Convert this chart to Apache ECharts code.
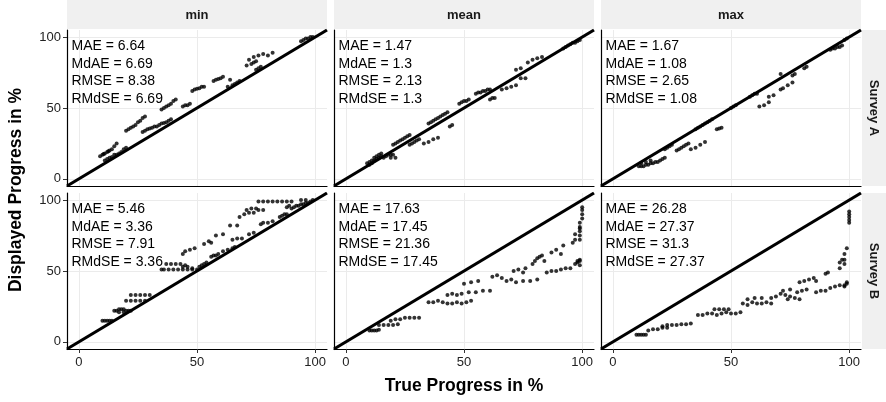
<!DOCTYPE html>
<html><head><meta charset="utf-8">
<script src="https://cdn.jsdelivr.net/npm/echarts@6/dist/echarts.min.js"></script>
<style>html,body{margin:0;padding:0;background:#fff}#c{width:886px;height:402px}</style>
</head><body><div id="c"></div>
<script>
const colLabels = ['min', 'mean', 'max'];
const rowLabels = ['Survey A', 'Survey B'];
const tickValues = [0, 50, 100];
const axisRange = [-5, 105];
const diagLine = [-5, 105];
const xTitle = 'True Progress in %';
const yTitle = 'Displayed Progress in %';

const statsAMin = ['MAE = 6.64', 'MdAE = 6.69', 'RMSE = 8.38', 'RMdSE = 6.69'];
const statsAMean = ['MAE = 1.47', 'MdAE = 1.3', 'RMSE = 2.13', 'RMdSE = 1.3'];
const statsAMax = ['MAE = 1.67', 'MdAE = 1.08', 'RMSE = 2.65', 'RMdSE = 1.08'];
const statsBMin = ['MAE = 5.46', 'MdAE = 3.36', 'RMSE = 7.91', 'RMdSE = 3.36'];
const statsBMean = ['MAE = 17.63', 'MdAE = 17.45', 'RMSE = 21.36', 'RMdSE = 17.45'];
const statsBMax = ['MAE = 26.28', 'MdAE = 27.37', 'RMSE = 31.3', 'RMdSE = 27.37'];

const pointsAMin = [
 [9,16],[10,17],[10.5,17.5],[11,18],[12,19],[12.5,19.5],[13,20],[14,21],[15,23],[16,25],
 [11,13],[12,14],[13,15],[14,15.5],[15,17],[16,17],[17,18],[18,19],[19,21],[20,22],
 [20,34],[21,35],[22,36],[23,37],[24,38],[25,40],[26,41],[27,43],[28,44],
 [27,33],[28,34],[29,35],[30,35.5],[31,36],[32,37],
 [33,37],[34,38],[35,39],[36,39.5],[37,40],[38,41],[39,42],
 [35,49],[36,50],[37,51],[38,52],[39,53],[40,55],[41,56],
 [44,51],[45,52],[46,52],[47,53],
 [48,62],[49,63],[50,63.5],[51,64],[52,65],[53,65],
 [57,69],[58,70],[59,70.5],[60,71],[61,72],
 [64,70],
 [63,65],[65,66],[66,67],[67,68],[68,69],
 [71,80],[73,81],[74,82],[75,83],
 [72,84],[74,86],[76,87],[78,88],[80,87],[82,89],
 [75,77],[76,78],[77,79],
 [94,97],[95,98],[96,99],[97,99],[98,100],[99,100]
];
const pointsAMean = [
 [9,11],[10,12],[11,13],[12,13],[13,14],[14,15],[15,16],[16,15],[17,16],[18,17],[19,17],[20,17],
 [12,15],[13,16],[14,17],[15,18],[11,11],[10,10],[19,15],[21,15],
 [20,24],[21,25],[22,26],[23,27],[24,28],[25,29],[26,30],[27,31],
 [27,24],[28,25],[29,26],[30,27],[31,28],
 [33,25],[35,26],[37,28],[39,29],
 [35,39],[36,40],[37,41],[38,42],[39,43],[40,44],[41,45],[42,46],[43,47],
 [44,37],[45,38],
 [48,53],[49,54],[50,55],[51,55],[52,56],
 [55,60],[56,61],[57,61],[58,62],[59,62],[60,63],[61,63],
 [61,56],[62,57],[63,57],
 [66,63],[68,64],[70,65],[72,66],
 [74,71],[76,71],
 [72,77],[74,78],
 [77,82],[79,84],[81,85],[83,86],
 [92,92],[93,93],[94,94],[95,95],[96,96],[97,96],[98,97],[99,98]
];
const pointsAMax = [
 [11,9],[12,9],[13,9],[14,10],[15,10],[16,11],[17,11],[18,12],[19,12],[20,13],[21,14],[22,15],
 [12,11],[14,12],[16,13],
 [22,21],[23,22],[24,23],[25,24],
 [27,20],[28,21],[29,22],[30,23],[31,24],[32,25],
 [33,21],[35,22],[37,24],[39,26],
 [35,35],[36,36],[37,37],[38,38],[39,39],[40,40],[41,41],[42,42],
 [44,35],[45,35.5],[46,36],
 [50,50],[51,51],[52,52],
 [58,58],[59,59],[60,60],[61,60],
 [62,51],[64,52],[66,54],
 [66,58],[68,59],
 [71,63],[72,64],[74,66],[76,68],
 [71,74],[76,73],[77,74],
 [81,78],[82,79],
 [92,91],[93,92],[94,92],[95,93],[96,93],[97,94],
 [98,98],[99,99]
];
const pointsBMin = [
 [10,15],[11,15],[12,15],[13,15],[14,15],
 [15,22],[16,22],[17,23],[18,23],[19,23],[20,22],[21,22],[22,22],[17,21],[19,21],
 [20,29],[22,29],[24,29],[26,29],[28,29],
 [22,33],[24,33],[26,33],[28,33],[30,33],
 [35,51],[36,51],[38,51],[40,51],[42,51],[44,51],[46,51],[48,51],[50,51],
 [37,55],[39,55],[41,55],[43,55],[45,54],
 [44,53],[46,53],[48,52],
 [44,62],[45,64],[47,65],[49,66],
 [51,53],[52,54],[53,55],[54,56],
 [53,69],[55,71],[56,70],
 [56,60],[57,61],[58,61],[59,62],
 [58,75],
 [61,64],[63,65],[65,66],[66,67],
 [61,76],[64,82],[67,82],
 [65,72],[67,73],[69,73],
 [68,88],[70,90],[72,91],[74,91],
 [71,93],[73,94],[75,94],
 [72,76],[74,77],
 [77,83],[78,84],
 [76,93],[78,93],
 [80,84],[82,85],
 [76,99],[78,99],[80,99],[82,99],[84,99],[86,99],[88,99],[90,99],
 [85,88],[86,89],[87,90],[88,90],
 [90,94],[91,95],[92,96],[93,96],[94,97],[95,97],[96,98],[97,98],[98,99],[99,100],
 [88,95],[89,96],
 [94,100],[96,100]
];
const pointsBMean = [
 [10,8],[11,8],[12,8],[13,8],[14,8.5],
 [14,12],[16,12],[18,12],[20,12],[22,12.5],
 [19,15],[21,16],[23,16],[25,17],[27,17],[29,17],[31,17],
 [35,28],[37,28],[39,29],[41,28],[43,27],[45,27],[47,28],[49,27],[51,28],[53,29],
 [43,33],[45,34],[47,33],
 [49,34],[52,35],[55,35],[58,36],[61,36],
 [50,41],[53,42],[56,43],
 [62,46],[64,47],[66,45],[68,43],[70,44],
 [72,42],[75,43],[78,43],[81,44],
 [71,50],[73,51],[75,49],[76,52],
 [79,55],[80,57],[81,59],[82,60],[83,61],[84,57],
 [85,49],[87,50],[89,50],[91,51],[93,52],[95,52],
 [87,63],[89,65],[91,62],[92,68],
 [96,70],[97,72],[97,76],
 [97,55],[98,56],[99,57],[99,54],
 [99,72],[99,75],[99,78],[99,81],[99,84],[100,87],[100,90],[100,93],[100,95],[99,80],
 [98,57],[99,58]
];
const pointsBMax = [
 [10,5],[11,5],[12,5],[13,5],[14,5],
 [15,8],[17,9],[19,9],[21,10],[23,10],
 [21,11],[23,12],[25,12],[27,12],[29,12.5],[31,12.5],[33,13],
 [36,19],[38,19],[40,20],[42,20],[44,19],[46,20],[48,21],[50,20],[52,20],[54,21],
 [43,23],[45,23],[47,23],[49,23],
 [55,27],[57,26],[59,28],[61,27],[63,27],[65,28],[67,27],
 [57,30],[60,31],[63,31],
 [67,31],[69,32],[71,34],[73,33],[75,32],
 [72,36],[75,37],[78,35],[80,36],[82,37],
 [74,30],[77,31],[79,30],
 [79,42],[81,43],[83,44],[85,45],[86,43],
 [86,35],[88,36],[90,36],[92,38],[94,39],[96,40],[98,40],
 [90,48],[91,49],
 [96,52],[96,56],[97,58],
 [98,55],[98,58],[98,62],[99,66],
 [98,39],[99,41],[99,42],
 [100,84],[100,86],[100,88],[100,90],[100,92]
];

const panelPoints = [[pointsAMin, pointsAMean, pointsAMax], [pointsBMin, pointsBMean, pointsBMax]];
const panelStats = [[statsAMin, statsAMean, statsAMax], [statsBMin, statsBMean, statsBMax]];

const colLeft = [67, 334, 601];
const panelW = 260;
const rowTop = [30, 193];
const panelH = 156;
const FONT = 'Liberation Sans, Arial, Helvetica, sans-serif';

const grids = [], xAxes = [], yAxes = [], series = [], graphics = [];
let gi = 0;
for (let r = 0; r < 2; r++) {
  for (let c = 0; c < 3; c++) {
    grids.push({left: colLeft[c], top: rowTop[r], width: panelW, height: panelH, containLabel: false});
    xAxes.push({
      gridIndex: gi, type: 'value', min: axisRange[0], max: axisRange[1],
      axisLine: {show: true, onZero: false, lineStyle: {color: '#000', width: 1.2}},
      axisTick: {show: r === 1, customValues: tickValues, length: 4, lineStyle: {color: '#333'}},
      axisLabel: {show: r === 1, customValues: tickValues, fontSize: 13, color: '#222', margin: 7, fontFamily: FONT},
      splitLine: {show: true, lineStyle: {color: '#EBEBEB', width: 1}}
    });
    yAxes.push({
      gridIndex: gi, type: 'value', min: axisRange[0], max: axisRange[1],
      axisLine: {show: true, onZero: false, lineStyle: {color: '#000', width: 1.2}},
      axisTick: {show: c === 0, customValues: tickValues, length: 4, lineStyle: {color: '#333'}},
      axisLabel: {show: c === 0, customValues: tickValues, fontSize: 13, color: '#222', margin: 6, fontFamily: FONT},
      splitLine: {show: true, lineStyle: {color: '#EBEBEB', width: 1}}
    });
    series.push({
      type: 'scatter', xAxisIndex: gi, yAxisIndex: gi, data: panelPoints[r][c],
      symbolSize: 4, itemStyle: {color: '#000'}, silent: true, z: 3
    });
    series.push({
      type: 'line', xAxisIndex: gi, yAxisIndex: gi,
      data: [[diagLine[0], diagLine[0]], [diagLine[1], diagLine[1]]],
      symbol: 'none', lineStyle: {color: '#000', width: 3.2}, clip: true, silent: true, z: 4
    });
    const st = panelStats[r][c];
    for (let k = 0; k < st.length; k++) {
      graphics.push({
        type: 'text', left: colLeft[c] + 4.5, top: rowTop[r] + 9.5 + k * 17.5,
        style: {text: st[k], font: '14px ' + FONT, fill: '#000'}, z: 10
      });
    }
    gi++;
  }
}
// top strips
for (let c = 0; c < 3; c++) {
  graphics.push({type: 'rect', shape: {x: colLeft[c], y: 0, width: panelW, height: 29}, style: {fill: '#F0F0F0'}, z: 0});
  graphics.push({type: 'text', x: colLeft[c] + panelW / 2, y: 15,
    style: {text: colLabels[c], font: 'bold 13px ' + FONT, fill: '#1A1A1A', align: 'center', verticalAlign: 'middle'}, z: 1});
}
// right strips
for (let r = 0; r < 2; r++) {
  graphics.push({type: 'rect', shape: {x: 862, y: rowTop[r], width: 24, height: panelH}, style: {fill: '#F0F0F0'}, z: 0});
  graphics.push({type: 'text', x: 874, y: rowTop[r] + panelH / 2, rotation: -Math.PI / 2,
    style: {text: rowLabels[r], font: 'bold 13px ' + FONT, fill: '#1A1A1A', align: 'center', verticalAlign: 'middle'}, z: 1});
}
// axis titles
graphics.push({type: 'text', x: 464, y: 386,
  style: {text: xTitle, font: 'bold 17.5px ' + FONT, fill: '#000', align: 'center', verticalAlign: 'middle'}});
graphics.push({type: 'text', x: 16, y: 190, rotation: Math.PI / 2,
  style: {text: yTitle, font: 'bold 17.5px ' + FONT, fill: '#000', align: 'center', verticalAlign: 'middle'}});

const chart = echarts.init(document.getElementById('c'), null, {renderer: 'canvas'});
chart.setOption({
  animation: false,
  backgroundColor: '#fff',
  grid: grids, xAxis: xAxes, yAxis: yAxes, series: series, graphic: graphics
});
</script>
</body></html>
